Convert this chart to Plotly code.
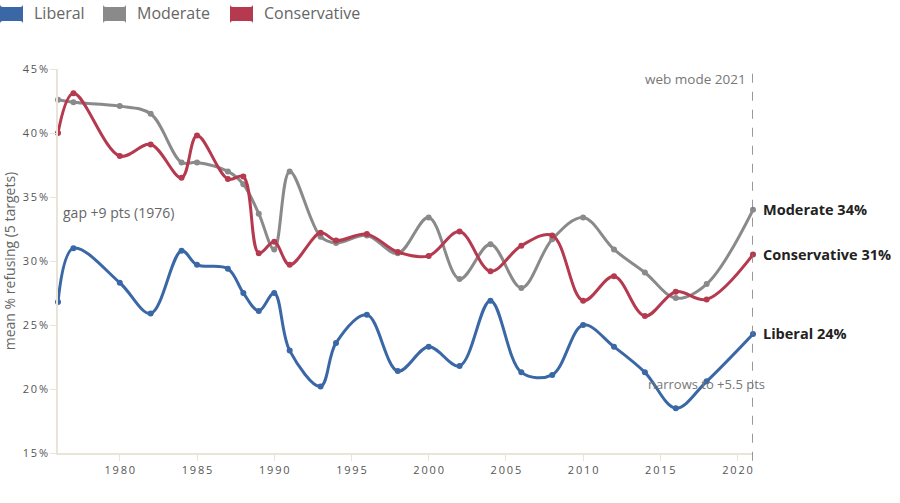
import plotly.graph_objects as go

years = [1976, 1977, 1980, 1982, 1984, 1985, 1987, 1988, 1989, 1990, 1991, 1993, 1994,
         1996, 1998, 2000, 2002, 2004, 2006, 2008, 2010, 2012, 2014, 2016, 2018, 2021]
liberal = [26.8, 31.0, 28.3, 25.9, 30.8, 29.7, 29.4, 27.5, 26.1, 27.5, 23.0, 20.2, 23.6,
           25.8, 21.4, 23.3, 21.8, 26.9, 21.3, 21.1, 25.0, 23.3, 21.3, 18.5, 20.6, 24.3]
moderate = [42.6, 42.4, 42.1, 41.5, 37.7, 37.7, 37.0, 36.0, 33.7, 30.9, 37.0, 31.9, 31.4,
            32.0, 30.6, 33.4, 28.6, 31.3, 27.9, 31.7, 33.4, 30.9, 29.1, 27.1, 28.2, 34.0]
conservative = [40.0, 43.1, 38.2, 39.1, 36.5, 39.8, 36.4, 36.6, 30.6, 31.5, 29.7, 32.2, 31.6,
                32.1, 30.7, 30.4, 32.3, 29.2, 31.2, 32.0, 26.9, 28.8, 25.7, 27.6, 27.0, 30.5]

series = [("Liberal", liberal, "#3a67a5"),
          ("Moderate", moderate, "#8a8a8a"),
          ("Conservative", conservative, "#b5394f")]
end_labels = ["Liberal 24%", "Moderate 34%", "Conservative 31%"]
y_ticks = [15, 20, 25, 30, 35, 40, 45]
y_ticktext = ["15%", "20%", "25%", "30%", "35%", "40%", "45%"]
x_ticks = [1980, 1985, 1990, 1995, 2000, 2005, 2010, 2015, 2020]
x_ticktext = ["1980", "1985", "1990", "1995", "2000", "2005", "2010", "2015", "2020"]

FONT = "Open Sans"
W, H = 900, 503
ML, MR, MT, MB = 58, 147, 69, 50
PW, PH = W - ML - MR, H - MT - MB
SP = "\u2009"


def spaced(s):
    return SP.join(list(s))


def px2paper_x(px):
    return (px - ML) / PW


def px2paper_y(py):
    return (H - MB - py) / PH


fig = go.Figure()
for name, vals, col in series:
    fig.add_trace(go.Scatter(x=years, y=vals, mode="lines+markers", name=name,
                             line=dict(color=col, width=3, shape="spline", smoothing=1.0),
                             marker=dict(color=col, size=6),
                             showlegend=False, cliponaxis=False))

# custom legend: rounded swatches + labels
legend_pos = [(0, 32), (103, 135), (230, 262)]
for (name, vals, col), (sx, tx) in zip(series, legend_pos):
    x0, x1 = px2paper_x(sx), px2paper_x(sx + 23)
    y0, y1 = px2paper_y(21), px2paper_y(7)
    r = 3 / PW
    ry = 3 / PH
    path = (f"M {x0 + r},{y0} L {x1 - r},{y0} Q {x1},{y0} {x1},{y0 - ry} "
            f"L {x1},{y1 + ry} Q {x1},{y1} {x1 - r},{y1} L {x0 + r},{y1} "
            f"Q {x0},{y1} {x0},{y1 + ry} L {x0},{y0 - ry} Q {x0},{y0} {x0 + r},{y0} Z")
    fig.add_shape(type="path", xref="paper", yref="paper", path=path,
                  fillcolor=col, line=dict(width=0))
    fig.add_annotation(xref="paper", yref="paper", x=px2paper_x(tx), y=px2paper_y(13),
                       text=name, showarrow=False, xanchor="left", yanchor="middle",
                       font=dict(size=16, color="#666", family=FONT))

for (name, vals, col), lab in zip(series, end_labels):
    fig.add_annotation(x=years[-1], y=vals[-1], text="<b>" + lab + "</b>", showarrow=False,
                       xanchor="left", xshift=8, font=dict(size=14.5, color="#222", family=FONT))

fig.add_shape(type="line", xref="x", yref="paper", x0=2021, x1=2021, y0=-0.02, y1=1.0,
              line=dict(color="#777", width=1.5, dash="dash"))
fig.add_annotation(x=2021, y=44.2, text="web mode 2021", showarrow=False, xanchor="right",
                   xshift=-5, font=dict(size=13.5, color="#777", family=FONT))
fig.add_annotation(x=1976.2, y=33.8, text="gap +9 pts (1976)", showarrow=False, xanchor="left",
                   font=dict(size=14, color="#666", family=FONT))
fig.add_annotation(x=2014.1, y=20.4, text="narrows to +5.5 pts", showarrow=False,
                   xanchor="left", font=dict(size=13, color="#777", family=FONT))

fig.update_layout(
    width=W, height=H,
    margin=dict(l=ML, r=MR, t=MT, b=MB, autoexpand=False),
    paper_bgcolor="white", plot_bgcolor="white",
    font=dict(family=FONT, color="#555"),
    showlegend=False,
    xaxis=dict(range=[1976, 2021], tickvals=x_ticks, ticktext=[spaced(t) for t in x_ticktext],
               showgrid=False, zeroline=False,
               showline=True, linecolor="#e8e4d8", linewidth=1.5, ticks="outside",
               ticklen=6, tickcolor="#e8e4d8", automargin=False,
               tickfont=dict(size=11, color="#555", family=FONT)),
    yaxis=dict(range=[15, 45], tickvals=y_ticks, ticktext=[spaced(t) for t in y_ticktext],
               showgrid=False,
               zeroline=False, showline=True, linecolor="#e8e4d8", linewidth=1.5,
               ticks="outside", ticklen=6, tickcolor="#e8e4d8", automargin=False,
               tickfont=dict(size=11, color="#555", family=FONT),
               title=dict(text="mean % refusing (5 targets)",
                          font=dict(size=14, color="#666", family=FONT), standoff=4)),
)
fig.write_html("out.html")
